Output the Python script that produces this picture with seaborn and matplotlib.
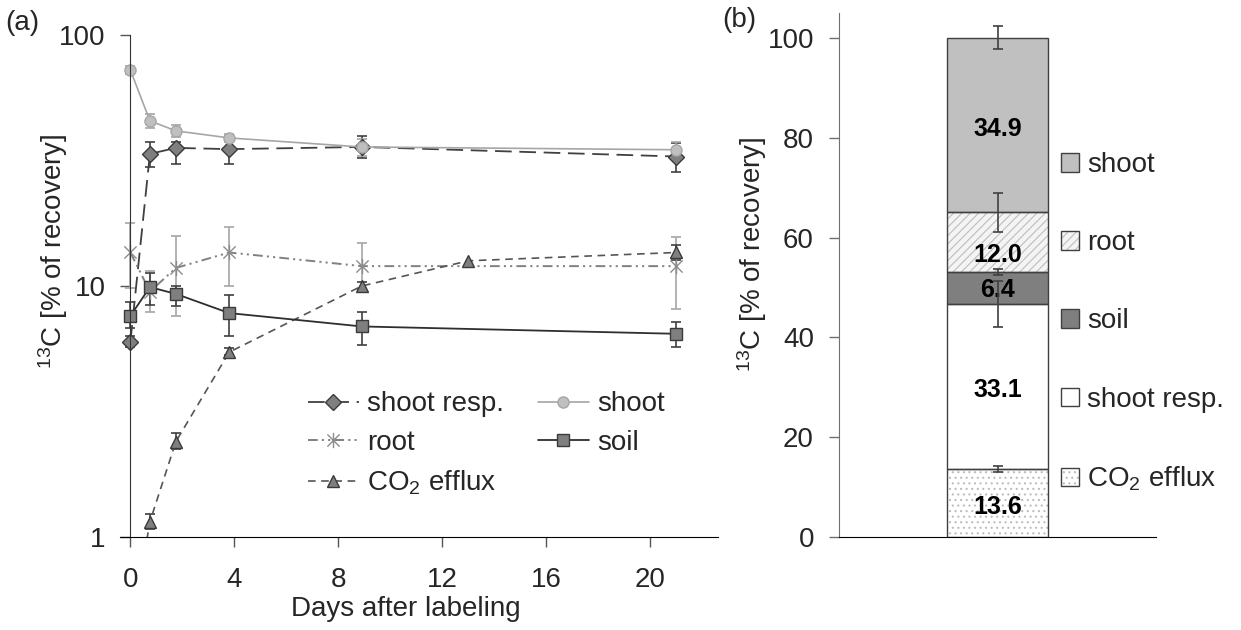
import matplotlib
matplotlib.use("Agg")
import matplotlib.pyplot as plt
import seaborn as sns
import numpy as np
from matplotlib.patches import Patch
from matplotlib.path import Path
from matplotlib.ticker import NullLocator, FixedLocator, FixedFormatter

# ---------------- data ----------------
days = [0, 0.75, 1.75, 3.8, 8.9, 21]
shoot_resp = [6.0, 33.6, 35.5, 35.1, 35.8, 32.8]
shoot_resp_lo = [5.7, 29.8, 30.6, 30.6, 32.4, 28.4]
shoot_resp_hi = [6.3, 37.5, 37.5, 39.6, 39.6, 37.0]
shoot = [72.5, 45.5, 41.5, 38.9, 35.8, 34.9]
shoot_lo = [70.0, 42.6, 39.3, 37.6, 33.0, 33.4]
shoot_hi = [75.3, 48.4, 43.8, 40.3, 38.5, 37.5]
root = [13.6, 9.5, 11.8, 13.6, 12.0, 12.0]
root_lo = [9.8, 7.9, 7.6, 10.0, 9.8, 8.1]
root_hi = [17.8, 11.5, 15.8, 17.2, 14.8, 15.7]
soil = [7.6, 9.9, 9.3, 7.8, 6.9, 6.45]
soil_lo = [6.8, 8.4, 8.3, 6.3, 5.8, 5.7]
soil_hi = [8.6, 11.3, 10.0, 9.2, 7.9, 7.2]
co2_days = [0, 0.75, 1.75, 3.8, 8.9, 13.0, 21]
co2 = [0.4, 1.15, 2.4, 5.45, 10.0, 12.6, 13.6]
co2_lo = [0.4, 1.08, 2.25, 5.3, 9.6, 12.6, 12.7]
co2_hi = [0.4, 1.23, 2.6, 5.65, 10.4, 12.6, 14.6]

x_ticks = [0, 4, 8, 12, 16, 20]
y_ticks_a = [1, 10, 100]

pools = ["CO$_2$ efflux", "shoot resp.", "soil", "root", "shoot"]
pool_vals = [13.6, 33.1, 6.4, 12.0, 34.9]
pool_err = [0.6, 4.6, 0.7, 3.9, 2.3]
y_ticks_b = [0, 20, 40, 60, 80, 100]

# ---------------- style ----------------
sns.set_style("ticks")
plt.rcParams["font.family"] = ["Liberation Sans", "DejaVu Sans"]
plt.rcParams["mathtext.default"] = "regular"
plt.rcParams["lines.scale_dashes"] = False
plt.rcParams["hatch.linewidth"] = 0.8
FS = 20

fig = plt.figure(figsize=(12.41, 6.30), dpi=100)
W, H = 1241, 630
axA = fig.add_axes([120 / W, 93 / H, 598 / W, 502 / H])
axB = fig.add_axes([839 / W, 93 / H, 317 / W, 524 / H])

# ---------------- panel (a) ----------------
star = Path([(-1, -1), (1, 1), (-1, 1), (1, -1), (0, -1.25), (0, 1.25)],
            [Path.MOVETO, Path.LINETO, Path.MOVETO, Path.LINETO, Path.MOVETO, Path.LINETO])

series = [
    dict(label="shoot resp.", x=days, y=shoot_resp, lo=shoot_resp_lo, hi=shoot_resp_hi,
         color="#404040", ls=(0, (12, 5.5)), lw=1.3, marker="D", ms=8, mfc="#7f7f7f", mec="#3a3a3a",
         ecolor="#404040"),
    dict(label="root", x=days, y=root, lo=root_lo, hi=root_hi,
         color="#808080", ls=(0, (7, 3, 1.5, 3, 1.5, 3)), lw=1.4, marker=star, ms=11, mfc="#8c8c8c",
         mec="#8c8c8c", ecolor="#a6a6a6"),
    dict(label="CO$_2$ efflux", x=co2_days, y=co2, lo=co2_lo, hi=co2_hi,
         color="#555555", ls=(0, (5.5, 4)), lw=1.2, marker="^", ms=9, mfc="#7f7f7f", mec="#3a3a3a",
         ecolor="#404040"),
    dict(label="shoot", x=days, y=shoot, lo=shoot_lo, hi=shoot_hi,
         color="#a6a6a6", ls="-", lw=1.2, marker="o", ms=8, mfc="#bfbfbf", mec="#a6a6a6",
         ecolor="#a6a6a6"),
    dict(label="soil", x=days, y=soil, lo=soil_lo, hi=soil_hi,
         color="#2e2e2e", ls="-", lw=1.3, marker="s", ms=8, mfc="#7f7f7f", mec="#3a3a3a",
         ecolor="#404040"),
]

for s in series:
    x = np.array(s["x"], float)
    y = np.array(s["y"], float)
    lo = np.array(s["lo"], float)
    hi = np.array(s["hi"], float)
    m = (hi - lo) > 0
    axA.errorbar(x[m], y[m], yerr=[y[m] - lo[m], hi[m] - y[m]], fmt="none",
                 ecolor=s["ecolor"], elinewidth=1.2, capsize=3.8, capthick=1.2, zorder=1.5)
    sns.lineplot(x=s["x"], y=s["y"], ax=axA, color=s["color"], linestyle=s["ls"], linewidth=s["lw"],
                 marker=s["marker"], markersize=s["ms"], markerfacecolor=s["mfc"],
                 markeredgecolor=s["mec"], markeredgewidth=1.0, label=s["label"],
                 sort=False, errorbar=None, zorder=2)

axA.set_yscale("log")
axA.set_ylim(1, 100)
axA.set_xlim(-0.4, 22.6)
axA.yaxis.set_major_locator(FixedLocator(y_ticks_a))
axA.yaxis.set_major_formatter(FixedFormatter([str(v) for v in y_ticks_a]))
axA.yaxis.set_minor_locator(NullLocator())
axA.set_xticks(x_ticks)
axA.set_xticklabels([str(v) for v in x_ticks])
axA.spines["left"].set_position(("data", 0))
for sp in ["top", "right"]:
    axA.spines[sp].set_visible(False)
axA.spines["left"].set_color("#333333")
axA.spines["bottom"].set_color("#000000")
axA.tick_params(axis="both", labelsize=FS, length=7, width=1.0, color="#555555", pad=11)
axA.tick_params(axis="x", pad=14.5)
axA.set_xlabel("Days after labeling", fontsize=FS)
axA.xaxis.set_label_coords(0.478, -0.118)
axA.set_ylabel("$^{13}$C [% of recovery]", fontsize=FS)
axA.yaxis.set_label_coords(-0.084, 0.57)

h, l = axA.get_legend_handles_labels()
order = [l.index(s["label"]) for s in series]
axA.legend([h[i] for i in order], [l[i] for i in order], ncol=2, loc="upper left",
           bbox_to_anchor=(0.314, 0.29), frameon=False, fontsize=FS, borderpad=0,
           borderaxespad=0, handlelength=1.85, handletextpad=0.3, columnspacing=1.2,
           labelspacing=0.45)

# ---------------- panel (b) ----------------
fills = ["#ffffff", "#ffffff", "#7f7f7f", "#f4f4f4", "#c0c0c0"]
hatches = ["...", None, None, "////", None]
hatch_cols = ["#bdbdbd", "#7f7f7f", "#7f7f7f", "#bdbdbd", "#c0c0c0"]
label_offsets = [-0.8, -0.6, -0.5, -2.5, -0.7]
edge = "#404040"

bottoms = np.concatenate([[0], np.cumsum(pool_vals)[:-1]])
tops = np.cumsum(pool_vals)
cat = ["all"]
for i, v in enumerate(pool_vals):
    sns.barplot(x=cat, y=[v], ax=axB, bottom=bottoms[i], width=0.32, errorbar=None,
                facecolor=fills[i], edgecolor=hatch_cols[i], linewidth=0, hatch=hatches[i], zorder=2)
    sns.barplot(x=cat, y=[v], ax=axB, bottom=bottoms[i], width=0.32, errorbar=None,
                facecolor="none", edgecolor=edge, linewidth=1.0, zorder=2.1)
    axB.text(0, bottoms[i] + v / 2 + label_offsets[i], f"{v:.1f}", ha="center", va="center",
             fontsize=18, fontweight="bold", color="black", zorder=3)

axB.errorbar([0] * len(tops), tops, yerr=pool_err, fmt="none", ecolor="#404040",
             elinewidth=1.2, capsize=3.8, capthick=1.2, zorder=4)

axB.set_xlim(-0.5, 0.5)
axB.set_ylim(0, 105)
axB.set_yticks(y_ticks_b)
axB.set_yticklabels([str(v) for v in y_ticks_b])
axB.set_xticks([])
axB.set_xlabel("")
for sp in ["top", "right"]:
    axB.spines[sp].set_visible(False)
axB.spines["left"].set_color("#707070")
axB.spines["bottom"].set_color("#000000")
axB.tick_params(axis="y", labelsize=FS, length=7, width=1.0, color="#707070", pad=11)
axB.set_ylabel("$^{13}$C [% of recovery]", fontsize=FS)
axB.yaxis.set_label_coords(-0.221, 0.54)

handles = []
for i in range(len(pools)):
    handles.append((Patch(facecolor=fills[i], edgecolor=hatch_cols[i], linewidth=0, hatch=hatches[i]),
                    Patch(facecolor="none", edgecolor=edge, linewidth=1.0)))
leg_order = [4, 3, 2, 1, 0]
fig.legend([handles[i] for i in leg_order], [pools[i] for i in leg_order], loc="upper left",
           bbox_to_anchor=(1061 / W, 1 - 152 / H), frameon=False, fontsize=FS, borderpad=0,
           borderaxespad=0, handlelength=0.65, handleheight=0.65, handletextpad=0.29,
           labelspacing=1.88)

fig.text(5 / W, 1 - 23 / H, "(a)", fontsize=FS, ha="left", va="center")
fig.text(722 / W, 1 - 20 / H, "(b)", fontsize=FS, ha="left", va="center")

fig.savefig("out.png", dpi=100)
